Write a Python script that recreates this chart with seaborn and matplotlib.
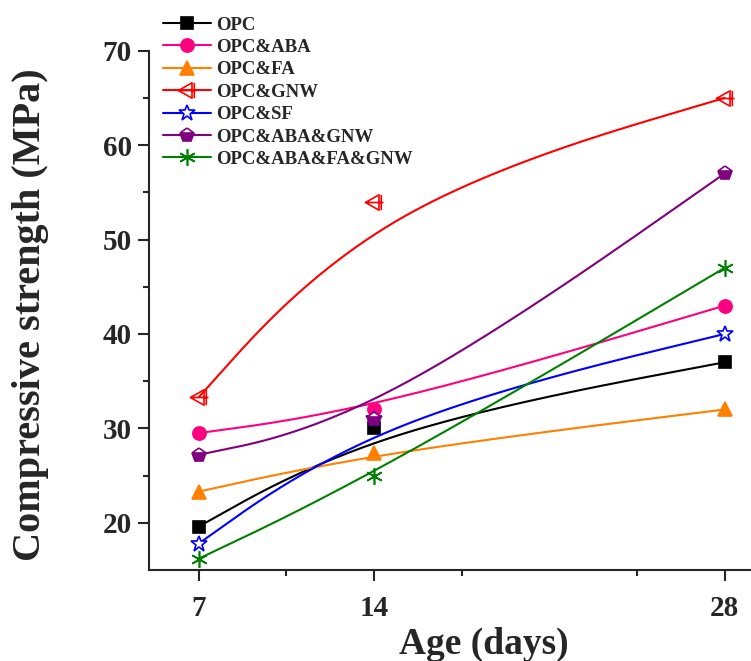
import numpy as np
import matplotlib
matplotlib.use("Agg")
import matplotlib.pyplot as plt
import seaborn as sns
from matplotlib.lines import Line2D
from matplotlib.path import Path

# Dados: idade (dias) e resistencia a compressao (MPa)
days = [7, 14, 28]
series_names = ["OPC", "OPC&ABA", "OPC&FA", "OPC&GNW", "OPC&SF",
                "OPC&ABA&GNW", "OPC&ABA&FA&GNW"]
opc = [19.6, 30.0, 37.0]
opc_aba = [29.5, 32.0, 43.0]
opc_fa = [23.3, 27.4, 32.0]
opc_gnw = [33.3, 54.0, 65.0]
opc_sf = [17.8, 31.0, 40.0]
opc_aba_gnw = [27.2, 31.0, 57.0]
opc_aba_fa_gnw = [16.2, 25.0, 47.0]

# marcador do GNW: triangulo com cruz
tri_cross = Path(
    [(-1, 0), (0.5, 0.85), (0.5, -0.85), (-1, 0),
     (-1, 0), (1, 0), (0.75, -0.85), (0.75, 0.85)],
    [Path.MOVETO, Path.LINETO, Path.LINETO, Path.CLOSEPOLY,
     Path.MOVETO, Path.LINETO, Path.MOVETO, Path.LINETO])

estilos = [
    dict(color="#000000", marker="s", mfc="#000000", ms=8.5),
    dict(color="#FF0080", marker="o", mfc="#FF0080", ms=9.5),
    dict(color="#FF8000", marker="^", mfc="#FF8000", ms=10.5),
    dict(color="#FF0000", marker=tri_cross, mfc="none", ms=13),
    dict(color="#0000FF", marker="*", mfc="white", ms=12),
    dict(color="#800080", marker="p", mfc="#800080", ms=10.5, fillstyle="bottom", mfcalt="white"),
    dict(color="#008000", marker=(6, 2, 0), mfc="none", ms=12),
]


def bspline(xs, ys, n=80):
    # B-spline cubica uniforme com extremos repetidos (como o Origin)
    px = np.array([xs[0]] * 2 + list(xs) + [xs[-1]] * 2, dtype=float)
    py = np.array([ys[0]] * 2 + list(ys) + [ys[-1]] * 2, dtype=float)
    t = np.linspace(0, 1, n)
    b = [(1 - t) ** 3 / 6, (3 * t**3 - 6 * t**2 + 4) / 6,
         (-3 * t**3 + 3 * t**2 + 3 * t + 1) / 6, t**3 / 6]
    cx, cy = [], []
    for i in range(len(px) - 3):
        cx.append(sum(b[k] * px[i + k] for k in range(4)))
        cy.append(sum(b[k] * py[i + k] for k in range(4)))
    return np.concatenate(cx), np.concatenate(cy)


sns.set_style("ticks")
plt.rcParams['font.family'] = ['Liberation Serif', 'DejaVu Serif']
plt.rcParams['font.weight'] = 'bold'

fig = plt.figure(figsize=(7.51, 6.61), dpi=100)
ax = fig.add_axes([0.1979, 0.1377, 0.8838, 0.7856])

dados = [opc, opc_aba, opc_fa, opc_gnw, opc_sf, opc_aba_gnw, opc_aba_fa_gnw]
handles = []
for nome, ys, st in zip(series_names, dados, estilos):
    cx, cy = bspline(days, ys)
    sns.lineplot(x=cx, y=cy, sort=False, color=st["color"], lw=1.5, ax=ax)
    extra = {}
    if "fillstyle" in st:
        extra = dict(fillstyle=st["fillstyle"], markerfacecoloralt=st["mfcalt"])
    ax.plot(days, ys, ls="none", marker=st["marker"], ms=st["ms"], color=st["color"],
            mfc=st["mfc"], mec=st["color"], mew=1.2, **extra)
    handles.append(Line2D([], [], color=st["color"], lw=1.5, marker=st["marker"],
                          ms=st["ms"], mfc=st["mfc"], mec=st["color"], mew=1.2,
                          label=nome, **extra))

ax.set_xlim(5, 31)
ax.set_ylim(15, 70)
ax.set_xticks([7, 14, 28])
ax.set_xticks([10.5, 17.5, 24.5, 31.5], minor=True)
ax.set_yticks([20, 30, 40, 50, 60, 70])
ax.set_yticks([25, 35, 45, 55, 65], minor=True)
ax.tick_params(which="major", direction="out", length=8, width=1.5, labelsize=21, pad=4)
ax.tick_params(axis="x", which="major", pad=10)
ax.tick_params(which="minor", direction="out", length=4, width=1.5)
for lab in ax.get_xticklabels() + ax.get_yticklabels():
    lab.set_fontweight("bold")
sns.despine(ax=ax)
ax.spines["left"].set_linewidth(1.5)
ax.spines["bottom"].set_linewidth(1.5)

ax.set_xlabel("Age (days)", fontsize=27, fontweight="bold")
ax.set_ylabel("Compressive strength (MPa)", fontsize=29, fontweight="bold")
ax.xaxis.set_label_coords(0.505, -0.110)
ax.yaxis.set_label_coords(-0.150, 0.491)

fig.legend(handles=handles, loc="upper left", bbox_to_anchor=(0.2166, 0.975),
           frameon=False, fontsize=13.5, handlelength=2.6, handletextpad=0.27,
           labelspacing=0.28, borderpad=0, borderaxespad=0)

fig.savefig("out.png", dpi=100)
